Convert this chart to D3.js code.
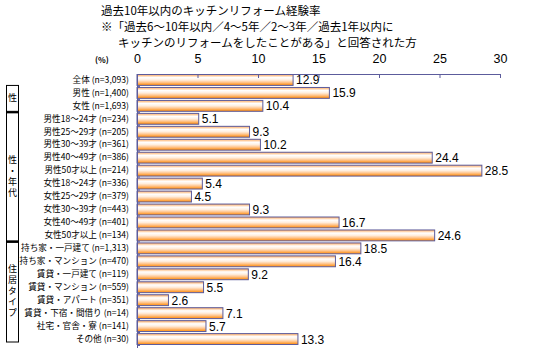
<!DOCTYPE html>
<html>
<head>
<meta charset="utf-8">
<script src="https://cdn.jsdelivr.net/npm/d3@7"></script>
<style>
  body { margin: 0; background: #fff; }
  text { font-family: "Noto Sans CJK JP", sans-serif; fill: #000; }
  .num { font-family: "Liberation Sans", Arial, sans-serif; }
</style>
</head>
<body>
<div id="chart"></div>
<script>
// Data
const categories = [
    "全体 (n=3,093)", "男性 (n=1,400)", "女性 (n=1,693)",
    "男性18～24才 (n=234)", "男性25～29才 (n=205)", "男性30～39才 (n=361)",
    "男性40～49才 (n=386)", "男性50才以上 (n=214)",
    "女性18～24才 (n=336)", "女性25～29才 (n=379)", "女性30～39才 (n=443)",
    "女性40～49才 (n=401)", "女性50才以上 (n=134)",
    "持ち家・一戸建て (n=1,313)", "持ち家・マンション (n=470)",
    "賃貸・一戸建て (n=119)", "賃貸・マンション (n=559)", "賃貸・アパート (n=351)",
    "賃貸・下宿・間借り (n=14)", "社宅・官舎・寮 (n=141)", "その他 (n=30)"
];
const values = [12.9, 15.9, 10.4, 5.1, 9.3, 10.2, 24.4, 28.5, 5.4, 4.5, 9.3,
    16.7, 24.6, 18.5, 16.4, 9.2, 5.5, 2.6, 7.1, 5.7, 13.3];
const xTicks = [0, 5, 10, 15, 20, 25, 30];
const titleLines = [
    "過去10年以内のキッチンリフォーム経験率",
    "※「過去6～10年以内／4～5年／2～3年／過去1年以内に",
    "キッチンのリフォームをしたことがある」と回答された方"
];
// groups: label and first/last category index
const groups = [
    { label: "性", from: 1, to: 2 },
    { label: "性・年代", from: 3, to: 12 },
    { label: "住居タイプ", from: 13, to: 20 }
];

const svg = d3.select("#chart").append("svg")
    .attr("width", 534)
    .attr("height", 364);

// bar gradient
const grad = svg.append("defs").append("linearGradient")
    .attr("id", "barGrad")
    .attr("x1", 0).attr("y1", 0).attr("x2", 0).attr("y2", 1);
[[0, "#ffa95a"], [0.28, "#ffffff"], [0.5, "#ffeede"], [0.72, "#ffc48c"], [1, "#ff8800"]]
    .forEach(s => grad.append("stop").attr("offset", s[0]).attr("stop-color", s[1]));

const xScale = d3.scaleLinear()
    .domain([0, 30])
    .range([137, 500]);

const yScale = d3.scaleBand()
    .domain(categories)
    .range([74, 345])
    .paddingInner(0.16)
    .paddingOuter(0.04);

// Title, three lines
const titleX = [101, 101, 118];
titleLines.forEach((t, i) => {
    svg.append("text")
        .attr("x", titleX[i])
        .attr("y", 15 + i * 16)
        .attr("font-size", 11.5)
        .text(t);
});

svg.append("text")
    .attr("x", 95)
    .attr("y", 63)
    .attr("font-size", 8)
    .attr("font-weight", "bold")
    .text("(%)");

// Bars
svg.selectAll("rect.bar")
    .data(values)
    .enter()
    .append("rect")
    .attr("class", "bar")
    .attr("x", xScale(0))
    .attr("y", (d, i) => yScale(categories[i]))
    .attr("width", d => xScale(d) - xScale(0))
    .attr("height", yScale.bandwidth())
    .attr("fill", "url(#barGrad)")
    .attr("stroke", "#5c5c9c")
    .attr("stroke-width", 1);

// Value labels
svg.selectAll("text.val")
    .data(values)
    .enter()
    .append("text")
    .attr("class", "val num")
    .attr("x", d => xScale(d) + 3)
    .attr("y", (d, i) => yScale(categories[i]) + yScale.bandwidth() / 2 + 4.5)
    .attr("font-size", 12)
    .text(d => d.toFixed(1));

// Top axis
const xAxis = svg.append("g")
    .attr("transform", "translate(0,74)")
    .call(d3.axisTop(xScale).tickValues(xTicks).tickSizeInner(-4).tickSizeOuter(0).tickPadding(11));
xAxis.select(".domain").attr("stroke", "#5c5c9c");
xAxis.selectAll(".tick line").attr("stroke", "#5c5c9c");
xAxis.selectAll(".tick text")
    .attr("class", "num")
    .attr("font-size", 12.5)
    .attr("font-family", "Liberation Sans, Arial, sans-serif");

// Left axis with category labels
const yAxis = svg.append("g")
    .attr("transform", `translate(${xScale(0)},0)`)
    .call(d3.axisLeft(yScale).tickSize(0).tickPadding(8));
yAxis.select(".domain").attr("stroke", "#5c5c9c").attr("d", "M0.5,74V348");
yAxis.selectAll(".tick text")
    .attr("font-size", 8.6)
    .attr("font-family", "Noto Sans CJK JP, sans-serif");

// small ticks between categories
svg.selectAll("line.minor")
    .data(categories)
    .enter()
    .append("line")
    .attr("x1", xScale(0))
    .attr("x2", xScale(0) + 3)
    .attr("y1", d => yScale(d) + yScale.bandwidth() + 1)
    .attr("y2", d => yScale(d) + yScale.bandwidth() + 1)
    .attr("stroke", "#5c5c9c");

// Group boxes on the left, labels written vertically
const step = yScale.step();
groups.forEach((g, gi) => {
    const y0 = yScale(categories[g.from]) - (step - yScale.bandwidth()) / 2 - 1;
    const y1 = gi === groups.length - 1 ? 342 : yScale(categories[g.to]) + yScale.bandwidth() + (step - yScale.bandwidth()) / 2;
    svg.append("rect")
        .attr("x", 6.5)
        .attr("y", y0)
        .attr("width", 12)
        .attr("height", y1 - y0)
        .attr("fill", "none")
        .attr("stroke", "#000")
        .attr("stroke-width", 1);
    svg.append("text")
        .attr("x", 12.5)
        .attr("y", (y0 + y1) / 2)
        .attr("text-anchor", "middle")
        .attr("font-size", 9)
        .style("writing-mode", "vertical-rl")
        .style("letter-spacing", "2px")
        .text(g.label);
});
// thick separators between the boxes
[groups[0].to, groups[1].to].forEach(idx => {
    const y = yScale(categories[idx]) + yScale.bandwidth() + (step - yScale.bandwidth()) / 2;
    svg.append("line")
        .attr("x1", 6).attr("x2", 19)
        .attr("y1", y).attr("y2", y)
        .attr("stroke", "#000")
        .attr("stroke-width", 2);
});
</script>
</body>
</html>
